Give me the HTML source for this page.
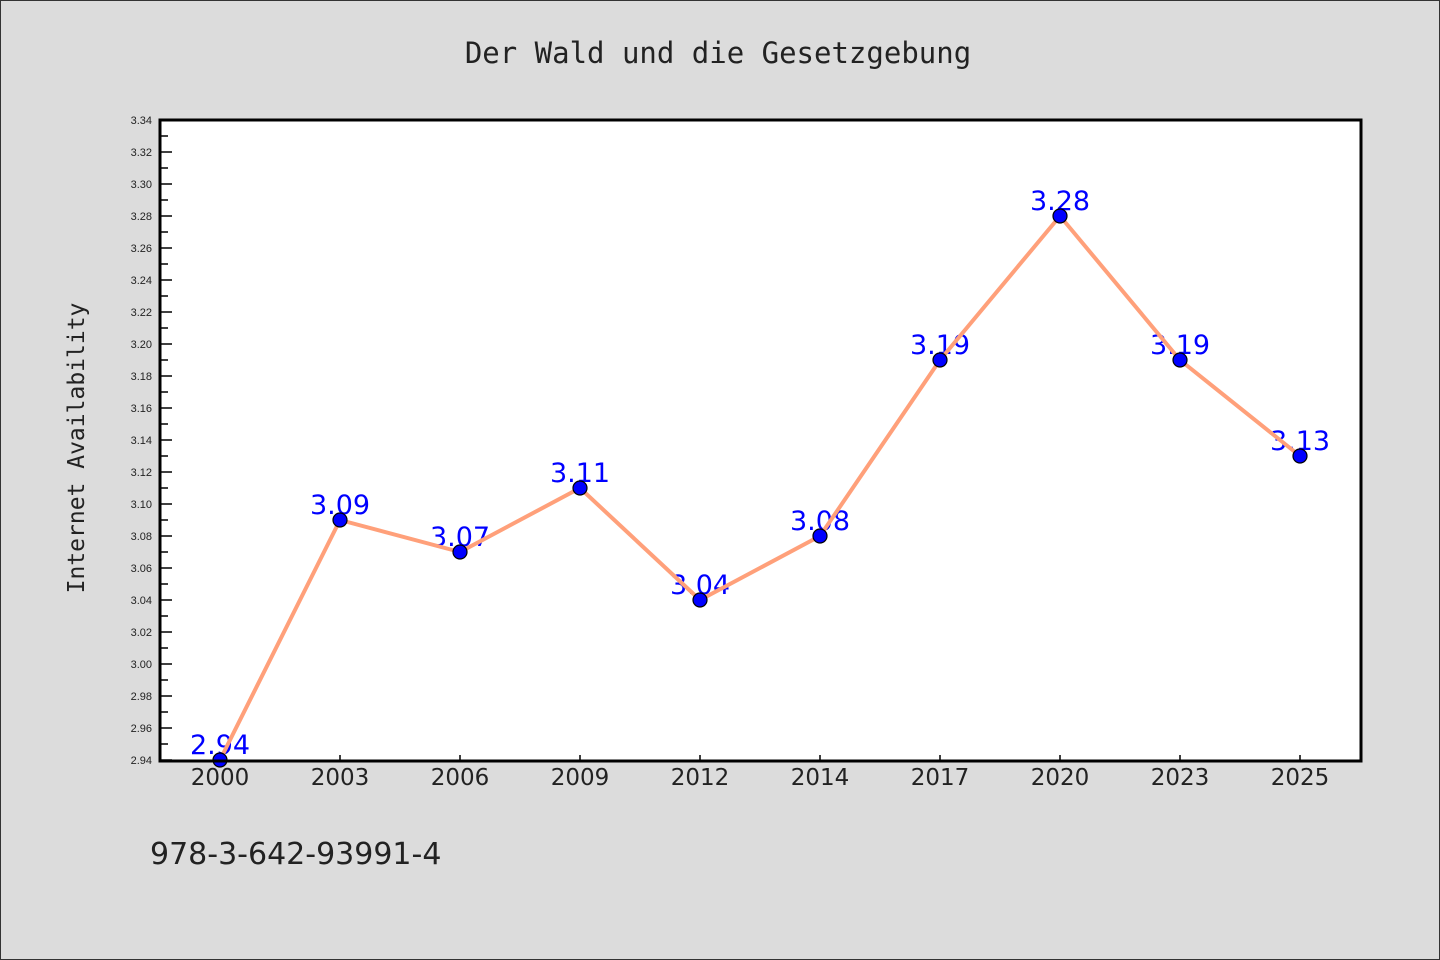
<!DOCTYPE html>
<html><head><meta charset="utf-8"><style>
html,body{margin:0;padding:0;background:#dcdcdc;}
svg{display:block;}
</style></head><body>
<svg id="chart" width="1440" height="960" xmlns="http://www.w3.org/2000/svg">
<rect x="0.5" y="0.5" width="1439" height="959" fill="#dcdcdc" stroke="#333"/>
<text x="718" y="63" text-anchor="middle" font-family="DejaVu Sans Mono, Liberation Mono, monospace" font-size="29" fill="#222">Der Wald und die Gesetzgebung</text>
<rect x="160" y="120" width="1201" height="641" fill="#fff"/>
<g id="yaxis"></g>
<g id="xaxis"></g>
<g id="labels"></g>
<g id="series"></g>
<rect x="160" y="120" width="1201" height="641" fill="none" stroke="#000" stroke-width="3"/>
<text transform="translate(84,448) rotate(-90)" text-anchor="middle" font-family="DejaVu Sans Mono, Liberation Mono, monospace" font-size="23" fill="#222">Internet Availability</text>
<text x="150" y="864" font-family="DejaVu Sans, Liberation Sans, sans-serif" font-size="30" fill="#222">978-3-642-93991-4</text>
</svg>
<script>
const categories = ["2000","2003","2006","2009","2012","2014","2017","2020","2023","2025"];
const values = [2.94,3.09,3.07,3.11,3.04,3.08,3.19,3.28,3.19,3.13];
const valueLabels = ["2.94","3.09","3.07","3.11","3.04","3.08","3.19","3.28","3.19","3.13"];
const yMin = 2.94, yMax = 3.34, yStep = 0.02;
const NS = "http://www.w3.org/2000/svg";
const L=160,R=1361,T=120,B=760;
function xPos(i){return 220 + i*120;}
function yPos(v){return B - (v-yMin)/(yMax-yMin)*(B-T);}
function mk(tag,attrs,parent){const e=document.createElementNS(NS,tag);for(const k in attrs)e.setAttribute(k,attrs[k]);parent.appendChild(e);return e;}
const ya=document.getElementById('yaxis');
const nT=Math.round((yMax-yMin)/yStep);
for(let i=0;i<=nT;i++){
  const v=yMin+i*yStep, y=yPos(v);
  const t=mk('line',{x1:L,x2:L+12,y1:y,y2:y,stroke:'#000','stroke-width':1.5},ya);
  
  
  if(i<nT){const ym=yPos(v+yStep/2);
    const m=mk('line',{x1:L,x2:L+8,y1:ym,y2:ym,stroke:'#000','stroke-width':1.5},ya);
    
    }
  const tx=mk('text',{x:152,y:y+4,'text-anchor':'end','font-family':'Liberation Sans, sans-serif','font-size':11,fill:'#222'},ya);
  tx.textContent=v.toFixed(2);
  
  
}
const xa=document.getElementById('xaxis');
categories.forEach((c,i)=>{
  const x=xPos(i);
  const t=mk('line',{x1:x,x2:x,y1:B,y2:B-5,stroke:'#000','stroke-width':1.5},xa);
  
  
  const tx=mk('text',{x:x,y:785,'text-anchor':'middle','font-family':'DejaVu Sans, Liberation Sans, sans-serif','font-size':23,fill:'#222'},xa);
  tx.textContent=c;
  
  
});
const lb=document.getElementById('labels');
values.forEach((v,i)=>{
  const tx=mk('text',{x:xPos(i),y:yPos(v)-6,'text-anchor':'middle','font-family':'DejaVu Sans, Liberation Sans, sans-serif','font-size':27,fill:'#0000ff'},lb);
  tx.textContent=valueLabels[i];
  
  
});
const sg=document.getElementById('series');
const pl=mk('polyline',{points:values.map((v,i)=>xPos(i)+','+yPos(v)).join(' '),fill:'none',stroke:'#ffa07a','stroke-width':4,'stroke-linejoin':'round'},sg);


values.forEach((v,i)=>{
  const c=mk('circle',{cx:xPos(i),cy:yPos(v),r:7,fill:'#0000ff',stroke:'#000','stroke-width':1.2},sg);
  
  
});
</script>
</body></html>
